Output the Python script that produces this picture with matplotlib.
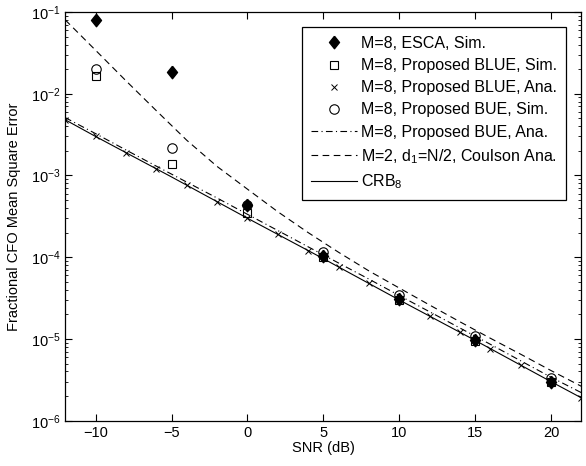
import matplotlib
matplotlib.use('Agg')
import matplotlib.pyplot as plt
from matplotlib.ticker import LogLocator, FixedLocator, NullFormatter

plt.rcParams.update({
    'font.family': ['Liberation Sans', 'DejaVu Sans'],
    'font.size': 10,
    'mathtext.fontset': 'custom',
    'mathtext.rm': 'Liberation Sans',
    'mathtext.it': 'Liberation Sans:italic',
    'mathtext.default': 'regular',
    'axes.unicode_minus': True,
})

# simulated points
snr_sim = [-10, -5, 0, 5, 10, 15, 20]
esca_sim = [8.0e-2, 1.86e-2, 4.4e-4, 1.05e-4, 3.1e-5, 9.6e-6, 3.0e-6]
blue_sim = [1.66e-2, 1.4e-3, 3.5e-4, 1.0e-4, 3.0e-5, 9.5e-6, 3.0e-6]
bue_sim = [2.0e-2, 2.2e-3, 4.3e-4, 1.15e-4, 3.45e-5, 1.1e-5, 3.35e-6]

# analytical curves
snr_ana = [-12, -10, -8, -6, -4, -2, 0, 2, 4, 6, 8, 10, 12, 14, 16, 18, 20, 22]
blue_ana = [4.8e-3, 3.0e-3, 1.9e-3, 1.2e-3, 7.6e-4, 4.8e-4, 3.0e-4, 1.9e-4, 1.2e-4,
            7.6e-5, 4.8e-5, 3.0e-5, 1.9e-5, 1.2e-5, 7.6e-6, 4.8e-6, 3.0e-6, 1.9e-6]
bue_ana = [5.1e-3, 3.25e-3, 2.05e-3, 1.3e-3, 8.3e-4, 5.3e-4, 3.35e-4, 2.12e-4, 1.34e-4,
           8.5e-5, 5.4e-5, 3.4e-5, 2.15e-5, 1.36e-5, 8.6e-6, 5.4e-6, 3.4e-6, 2.2e-6]
coulson_ana = [8.0e-2, 3.4e-2, 1.44e-2, 6.2e-3, 2.7e-3, 1.29e-3, 6.8e-4, 3.6e-4, 2.0e-4,
               1.15e-4, 6.8e-5, 4.2e-5, 2.6e-5, 1.62e-5, 1.02e-5, 6.5e-6, 4.1e-6, 2.63e-6]
snr_crb = [-12, -10, -5, 0, 5, 10, 15, 20, 22]
crb = [4.8e-3, 3.0e-3, 9.6e-4, 3.0e-4, 9.6e-5, 3.0e-5, 9.6e-6, 3.0e-6, 1.9e-6]

fig = plt.figure(figsize=(5.86, 4.66), dpi=100)
ax = fig.add_axes([0.1114, 0.0972, 0.8809, 0.877])

# slightly tall diamond, like the MATLAB one
diamond = [(0, 1), (0.8, 0), (0, -1), (-0.8, 0), (0, 1)]

lw = 0.8
ax.plot(snr_sim, esca_sim, linestyle='none', marker=diamond, markersize=9,
        color='black', label='M=8, ESCA, Sim.')
ax.plot(snr_sim, blue_sim, linestyle='none', marker='s', markersize=5.5,
        markerfacecolor='none', markeredgecolor='black', markeredgewidth=0.8,
        label='M=8, Proposed BLUE, Sim.')
ax.plot(snr_ana, blue_ana, linestyle='none', marker='x', markersize=5,
        color='black', markeredgewidth=0.7, label='M=8, Proposed BLUE, Ana.')
ax.plot(snr_sim, bue_sim, linestyle='none', marker='o', markersize=6.8,
        markerfacecolor='none', markeredgecolor='black', markeredgewidth=0.8,
        label='M=8, Proposed BUE, Sim.')
ax.plot(snr_ana, bue_ana, color='black', linewidth=lw, dashes=[6, 3, 1, 3],
        label='M=8, Proposed BUE, Ana.')
ax.plot(snr_ana, coulson_ana, color='black', linewidth=lw, dashes=[6, 4],
        label='M=2, d$_1$=N/2, Coulson Ana.')
ax.plot(snr_crb, crb, color='black', linewidth=lw, label='CRB$_8$')

ax.set_yscale('log')
ax.set_xlim(-12, 22)
ax.set_ylim(1e-6, 1e-1)
ax.xaxis.set_major_locator(FixedLocator([-10, -5, 0, 5, 10, 15, 20]))
ax.set_xticklabels(['\u221210', '\u22125', '0', '5', '10', '15', '20'])
ax.yaxis.set_major_locator(LogLocator(base=10, numticks=10))
ax.yaxis.set_minor_locator(LogLocator(base=10, subs=range(2, 10), numticks=20))
ax.yaxis.set_minor_formatter(NullFormatter())
ax.tick_params(which='both', direction='in', top=True, right=True, labelsize=10.5)
ax.tick_params(which='major', length=5, width=0.8)
ax.tick_params(which='minor', length=2.5, width=0.6)
for s in ax.spines.values():
    s.set_linewidth(0.9)

ax.set_xlabel('SNR (dB)', fontsize=10.5, labelpad=1)
ax.set_ylabel('Fractional CFO Mean Square Error', fontsize=10.5, labelpad=7)

leg = ax.legend(loc='upper right', bbox_to_anchor=(0.970, 0.963), numpoints=1,
                fancybox=False, edgecolor='black', framealpha=1, fontsize=11.5,
                handlelength=2.9, handletextpad=0.25, labelspacing=0.45,
                borderpad=0.55, borderaxespad=0)
leg.get_frame().set_linewidth(0.9)

fig.savefig('out.png', dpi=100)
